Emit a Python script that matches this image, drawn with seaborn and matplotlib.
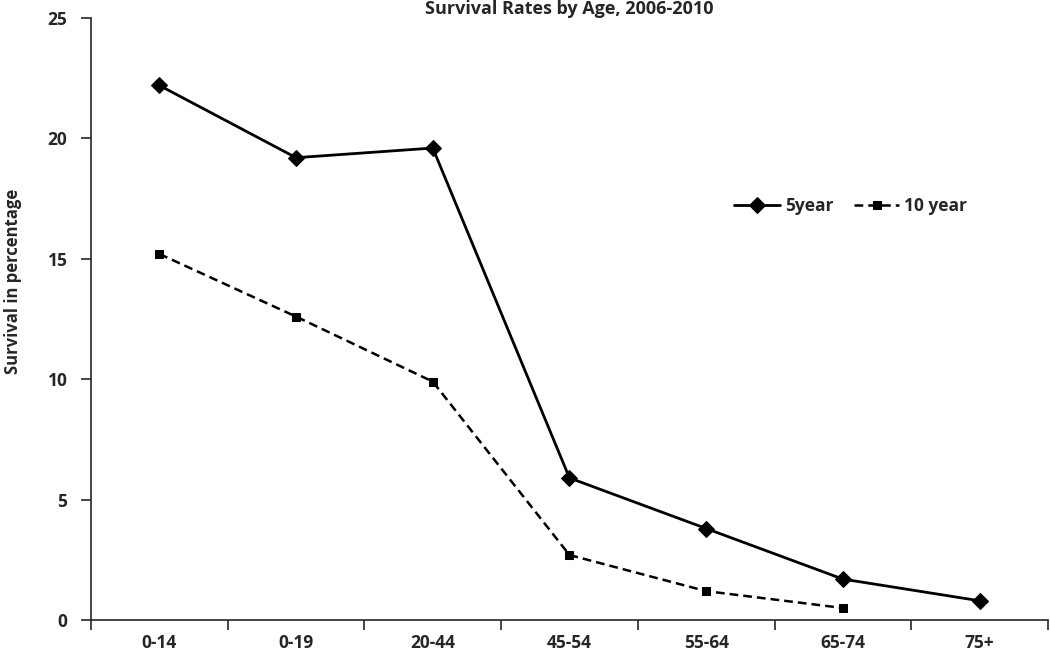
import numpy as np
import pandas as pd
import matplotlib
matplotlib.use("Agg")
import matplotlib.pyplot as plt
import seaborn as sns

# ─── Data ─────────────────────────────────────────────────────────────────────
age_groups = ["0-14", "0-19", "20-44", "45-54", "55-64", "65-74", "75+"]
five_year = [22.2, 19.2, 19.6, 5.9, 3.8, 1.7, 0.8]
ten_year = [15.2, 12.6, 9.9, 2.7, 1.2, 0.5, np.nan]

df = pd.DataFrame({
    "pos": np.arange(len(age_groups)),
    "5year": five_year,
    "10 year": ten_year,
})

# ─── Plot ─────────────────────────────────────────────────────────────────────
sns.set_theme(style="ticks")
plt.rcParams["font.family"] = ["Open Sans", "DejaVu Sans"]
plt.rcParams["font.weight"] = "bold"

fig = plt.figure(figsize=(10.5, 6.55), dpi=100)
ax = fig.add_axes([0.0867, 0.0534, 0.9113, 0.9191])

sns.lineplot(data=df, x="pos", y="5year", ax=ax, color="black", lw=2,
             marker="D", markersize=8.5, markeredgecolor="black", label="5year")
sns.lineplot(data=df.dropna(), x="pos", y="10 year", ax=ax, color="black", lw=1.8,
             linestyle=(0, (3.5, 2)), marker="s", markersize=6,
             markeredgecolor="black", label="10 year")

ax.set_xlim(-0.5, len(age_groups) - 0.5)
ax.set_ylim(0, 25)
ax.set_yticks([0, 5, 10, 15, 20, 25])

# boundary ticks, labels in between
ax.set_xticks(np.arange(-0.5, len(age_groups), 1.0))
ax.set_xticklabels([])
ax.set_xticks(np.arange(len(age_groups)), minor=True)
ax.set_xticklabels(age_groups, minor=True)
ax.tick_params(axis="x", which="minor", length=0, pad=10, labelsize=12.5)
ax.tick_params(axis="x", which="major", length=7, width=1.2, direction="out")
ax.tick_params(axis="y", length=7, width=1.2, direction="out", labelsize=12.5, pad=10)

for lbl in ax.get_xticklabels(minor=True) + ax.get_yticklabels():
    lbl.set_fontweight("bold")

sns.despine(ax=ax, top=True, right=True)
ax.spines["left"].set_linewidth(1.2)
ax.spines["bottom"].set_linewidth(1.2)

ax.set_xlabel("")
ax.set_ylabel("Survival in percentage", fontsize=12, fontweight="bold")
ax.yaxis.set_label_coords(-0.072, 0.563)
ax.set_title("Survival Rates by Age, 2006-2010", fontsize=13, fontweight="bold", pad=-2)

ax.legend(loc="upper left", bbox_to_anchor=(0.656, 0.728), ncol=2, frameon=False,
          handlelength=2.6, columnspacing=1.2, handletextpad=0.3,
          prop={"weight": "bold", "size": 12.5})

fig.savefig("out.png", dpi=100)
plt.close()
